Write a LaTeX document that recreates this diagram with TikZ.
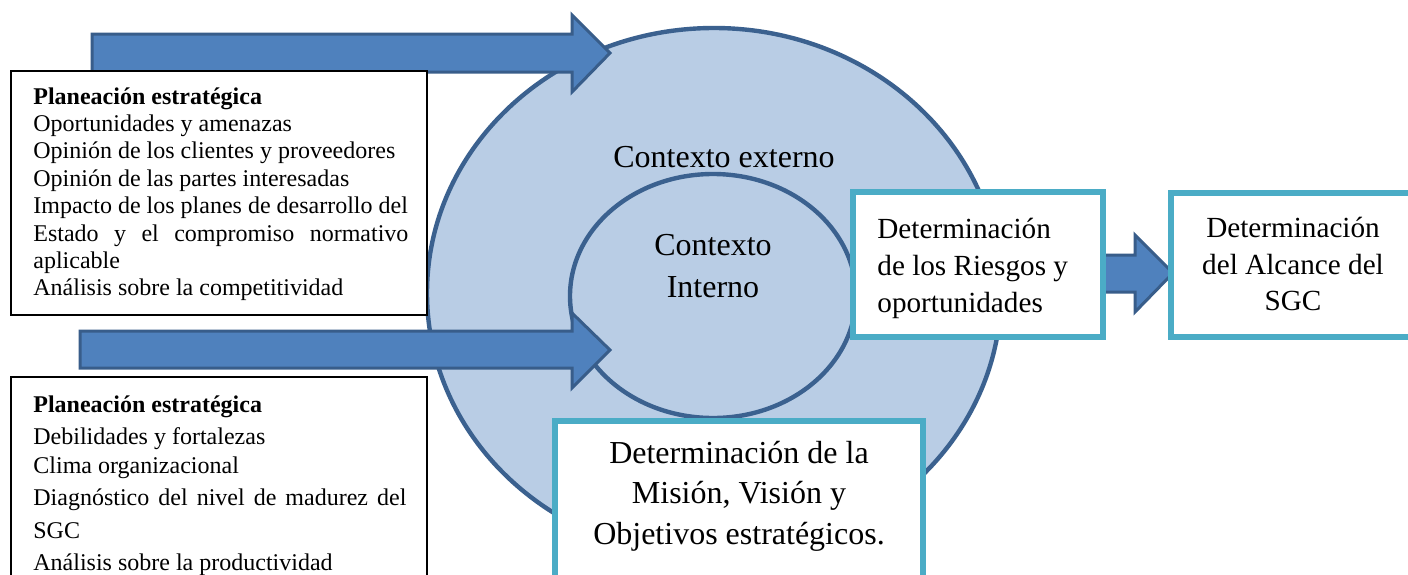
\documentclass[tikz,border=0pt]{standalone}
\usepackage{fontspec}
\setmainfont{Liberation Serif}
\definecolor{arrowfill}{HTML}{4F81BD}
\definecolor{arrowline}{HTML}{385D8A}
\definecolor{ringfill}{HTML}{B9CDE5}
\definecolor{ringline}{HTML}{3B618F}
\definecolor{cyanline}{HTML}{4BACC6}
\begin{document}
\begin{tikzpicture}[x=0.5pt,y=-0.5pt,
  blockarrow/.style={fill=arrowfill,draw=arrowline,line width=1.5pt,line join=miter},
  ring/.style={fill=ringfill,draw=ringline,line width=2.2pt},
  plainbox/.style={fill=white,draw=black,line width=0.7pt},
  cyanbox/.style={fill=white,draw=cyanline,line width=2.6pt},
  small/.style={font=\fontsize{12}{14}\selectfont,inner sep=0pt},
  big/.style={font=\fontsize{16}{19}\selectfont,inner sep=0pt},
  mid/.style={font=\fontsize{14.6}{17}\selectfont,inner sep=0pt}]
\clip (0,0) rectangle (1408,574);
\fill[white] (0,0) rectangle (1408,574);
% rings
\draw[ring] (714,293) ellipse [x radius=143.5pt, y radius=132.5pt];
\draw[ring] (713,296) ellipse [x radius=71.5pt, y radius=61pt];
% block arrows
\draw[blockarrow] (92,34) -- (572,34) -- (572,15) -- (610,53) -- (572,92) -- (572,72) -- (92,72) -- cycle;
\draw[blockarrow] (80,331) -- (572,331) -- (572,313) -- (610,350) -- (572,388) -- (572,368) -- (80,368) -- cycle;
\draw[blockarrow] (1100,255) -- (1135,255) -- (1135,235) -- (1173,273) -- (1135,312) -- (1135,292) -- (1100,292) -- cycle;
% boxes
\draw[plainbox] (11,71) rectangle (427,315);
\draw[plainbox] (11,377) rectangle (427,620);
\draw[cyanbox] (853,192) rectangle (1103,337);
\draw[cyanbox] (1171,193) rectangle (1420,337);
\draw[cyanbox] (555,421) rectangle (923,620);
% ring labels
\node[big,anchor=base] (ext) at (724,167) {Contexto externo};
\node[big,anchor=base] (int1) at (713,255) {Contexto};
\node[big,anchor=base] (int2) at (713,297) {Interno};
% box 1
\node[small,anchor=base west] (a0) at (33,104) {\textbf{Planeación estratégica}};
\node[small,anchor=base west] (a1) at (33,131.4) {Oportunidades y amenazas};
\node[small,anchor=base west] (a2) at (33,158.8) {Opinión de los clientes y proveedores};
\node[small,anchor=base west] (a3) at (33,186.2) {Opinión de las partes interesadas};
\node[small,anchor=base west] (a4) at (33,213.6) {Impacto de los planes de desarrollo del};
\node[small,anchor=base west] (a5) at (33,241) {\makebox[187.5pt][s]{Estado y el compromiso normativo}};
\node[small,anchor=base west] (a6) at (33,268.4) {aplicable};
\node[small,anchor=base west] (a7) at (33,295.8) {Análisis sobre la competitividad};
% box 2
\node[small,anchor=base west] (b0) at (33,412) {\textbf{Planeación estratégica}};
\node[small,anchor=base west] (b1) at (33,444) {Debilidades y fortalezas};
\node[small,anchor=base west] (b2) at (33,473) {Clima organizacional};
\node[small,anchor=base west] (b3) at (33,505) {\makebox[186.5pt][s]{Diagnóstico del nivel de madurez del}};
\node[small,anchor=base west] (b4) at (33,538) {SGC};
\node[small,anchor=base west] (b5) at (33,570) {Análisis sobre la productividad};
% riesgos box
\node[mid,anchor=base west] (r1) at (877,238) {Determinación};
\node[mid,anchor=base west] (r2) at (877,275) {de los Riesgos y};
\node[mid,anchor=base west] (r3) at (877,312) {oportunidades};
% alcance box
\node[mid,anchor=base] (s1) at (1293,237) {Determinación};
\node[mid,anchor=base] (s2) at (1293,274) {del Alcance del};
\node[mid,anchor=base] (s3) at (1293,310) {SGC};
% mision box
\node[big,anchor=base] (m1) at (739,463) {Determinación de la};
\node[big,anchor=base] (m2) at (739,503) {Misión, Visión y};
\node[big,anchor=base] (m3) at (739,544) {Objetivos estratégicos.};
\end{tikzpicture}
\end{document}
